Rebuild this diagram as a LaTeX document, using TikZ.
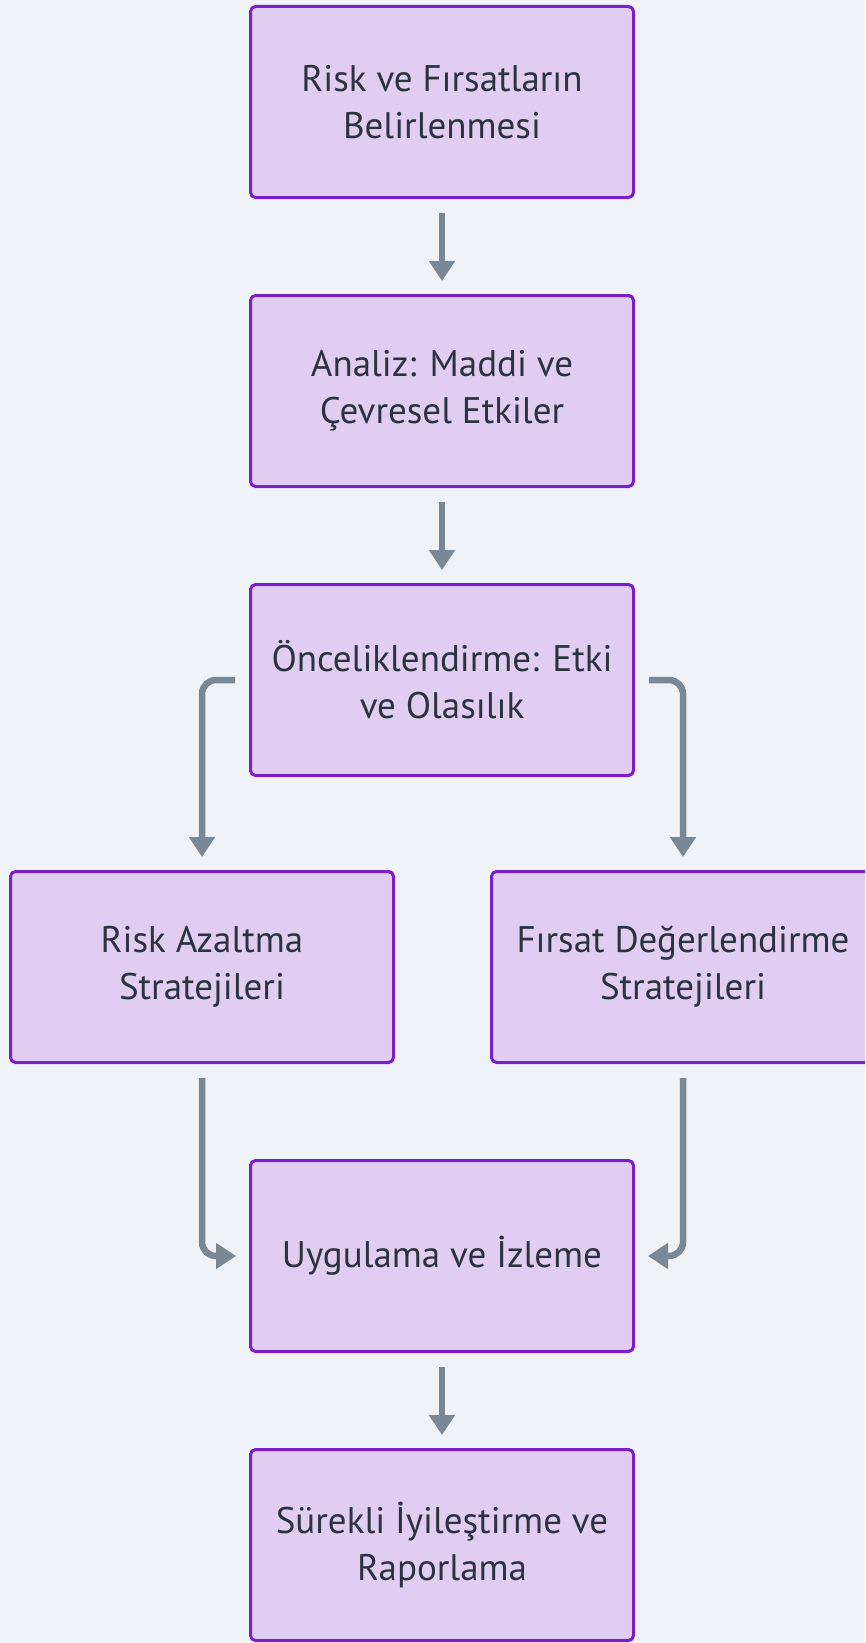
\documentclass[tikz,border=0pt]{standalone}
\usepackage{fontspec}
\setmainfont{PT Sans}
\usetikzlibrary{positioning,arrows.meta}
\definecolor{bgColor}{HTML}{EFF3F7}
\definecolor{boxFill}{HTML}{E2CDF2}
\definecolor{boxDraw}{HTML}{7A1FC8}
\definecolor{arrowColor}{HTML}{7A8794}
\definecolor{textColor}{HTML}{2A3440}
\tikzset{
  stepbox/.style={draw=boxDraw, fill=boxFill, line width=3pt, rounded corners=5pt,
    minimum width=383pt, minimum height=191pt, align=center, text=textColor,
    font=\fontsize{37}{47}\selectfont},
  flow/.style={draw=arrowColor, line width=6.5pt, rounded corners=14pt,
    -{Triangle[length=20pt,width=25pt]}, shorten <=14pt, shorten >=13pt}
}
\begin{document}
\begin{tikzpicture}[x=1pt,y=-1pt]
  \useasboundingbox (0,0) rectangle (865,1643);
  \clip (0,0) rectangle (865,1643);
  \fill[bgColor] (0,0) rectangle (865,1643);
  % main column
  \node[stepbox] (belirle) at (442,102) {Risk ve Fırsatların\\Belirlenmesi};
  \node[stepbox, below=95pt of belirle] (analiz) {Analiz: Maddi ve\\Çevresel Etkiler};
  \node[stepbox, below=95pt of analiz] (oncelik) {Önceliklendirme: Etki\\ve Olasılık};
  % two branches
  \node[stepbox] (riskaz) at (202,967) {Risk Azaltma\\Stratejileri};
  \node[stepbox] (firsat) at (683,967) {Fırsat Değerlendirme\\Stratejileri};
  \node[stepbox] (uygula) at (442,1256) {Uygulama ve İzleme};
  \node[stepbox, below=95pt of uygula] (surekli) {Sürekli İyileştirme ve\\Raporlama};
  % connectors
  \draw[flow] (belirle) -- (analiz);
  \draw[flow] (analiz) -- (oncelik);
  \draw[flow] (oncelik.west) -| (riskaz.north);
  \draw[flow] (oncelik.east) -| (firsat.north);
  \draw[flow] (riskaz.south) |- (uygula.west);
  \draw[flow] (firsat.south) |- (uygula.east);
  \draw[flow] (uygula) -- (surekli);
\end{tikzpicture}
\end{document}
